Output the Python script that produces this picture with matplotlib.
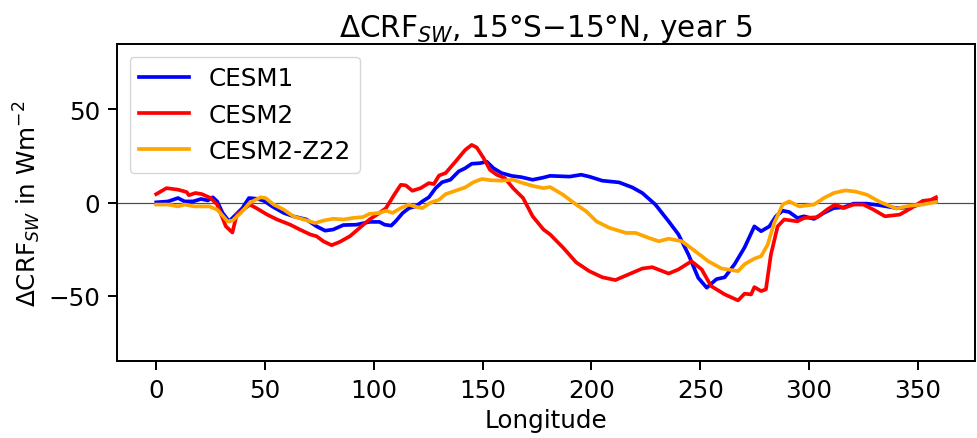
import matplotlib
matplotlib.use("Agg")
import matplotlib.pyplot as plt

# values (longitude in degrees, dCRF_SW in W m-2)
lon_cesm1 = [0, 5.5, 10, 13, 17, 20.6, 23.7, 26, 28, 30.5, 33.5, 36.6, 39.6, 42.6, 46.4, 49.5, 53.3,
             58.6, 63, 69, 73.7, 77.6, 81.3, 86, 92, 98, 102.6, 105, 108, 110, 113.3, 116.2, 119.3,
             122.3, 125.3, 128.4, 131.4, 135.2, 139, 142, 145, 148.8, 151.9, 155, 158.7, 163.3,
             167.8, 173, 178, 181, 190, 195.3, 199, 205, 212.7, 218.8, 223.4, 229.4, 235.5, 240,
             244.6, 249.1, 253, 257.5, 261.3, 265.8, 270.4, 274.9, 278, 281.8, 284.8, 287.9, 290.9,
             294.7, 297.7, 302.3, 306.8, 311.4, 315.9, 320.5, 326.6, 332.6, 340.2, 346.3, 352.3, 358.4]
cesm1 = [0.2, 0.7, 2.5, 0.7, 0.7, 2.0, 1.2, 2.9, 0.7, -5.5, -10, -6.4, -2.9, 2.5, 2.1, 1.0, -2.0,
         -5.5, -7.3, -9.0, -12.7, -15, -14.4, -12, -11.8, -10.3, -10.3, -11.8, -12.3, -10, -5.5, -2.9, -2.0,
         0.7, 2.9, 7.8, 11, 12.3, 16.8, 18.5, 20.9, 21.2, 22, 18.5, 15.9, 14.4,
         13.7, 12.3, 13.5, 14.4, 14, 15, 14, 11.8, 10.9, 8.2, 5.2, -1, -10, -17,
         -27.8, -40.3, -45.6, -41, -40, -33, -24, -12.7, -15.3, -12.7, -7.3, -4.3, -5.0,
         -8.2, -7.3, -8.7, -5.5, -2.9, -2.5, -0.5, -0.5, -1.4, -2.9, -2.5, -0.5, 1.0]

lon_cesm2 = [0, 4.7, 10, 14, 15, 18, 21, 25, 28, 32, 35, 37, 40, 43, 46, 51, 55.5, 61.6, 66, 70.7,
             73.7, 76.8, 80.6, 84.4, 89, 93.5, 98, 102.6, 105.6, 109.4, 112.4, 114.7, 117.7, 121.5,
             125.3, 127.6, 130, 133, 137.5, 142, 145, 147.3, 150.4, 153.4, 156.5, 160.2, 164, 168.6,
             173, 178, 181, 186.9, 193, 199, 205, 211, 217, 223.4, 228, 235.5, 240, 246, 250.7, 255,
             261.3, 267.4, 270.4, 273.4, 274.9, 278, 280.2, 282.5, 285.6, 288.6, 294.7, 297.7, 303.8,
             308.3, 312, 315.9, 320.5, 325, 329.6, 334.9, 341.7, 347, 352.3, 356, 358.4]
cesm2 = [4.6, 7.8, 7.0, 5.7, 4.0, 5.2, 4.6, 2.5, -1, -12.7, -16, -6.4, -3.7, -1, -2.9, -6.4, -9, -11.8, -14.4, -17,
         -18, -20.7, -22.8, -21, -18, -13.5, -9, -5.5, -2.9, 4.3, 9.6, 9.3, 6.4, 7.8,
         10.5, 10, 14.6, 15.9, 22, 28.3, 31, 29.6, 24, 17.6, 15, 13.2, 7.8, 2.5,
         -7.3, -14.4, -17, -24, -32, -36.7, -40, -41.5, -38.5, -35.3, -34.6, -38, -35.8, -31.4, -35.8, -44.7,
         -49.2, -52.4, -48.8, -49.2, -45.3, -47.4, -46.5, -27.8, -12.7, -9, -10, -8.2, -7.8,
         -3.7, -1, -2.9, -1, -1, -3.7, -7.3, -6.4, -2.9, 1.0, 1.5, 2.9]

lon_z22 = [0, 5.5, 10, 13, 17.7, 24.4, 28, 32.8, 35, 38.9, 43, 48, 50.2, 54, 58.6, 63, 67.7, 73, 76.8,
           81.3, 86, 90.4, 95, 98, 102.6, 105.6, 108.6, 112.4, 116.2, 118.5, 122.3, 126, 130, 133,
           137.5, 142, 145.8, 149.6, 154.2, 158.7, 164, 168.6, 173, 178, 181, 186.9, 193, 197.6,
           202.3, 208.3, 215.9, 220.3, 226.4, 231, 235.5, 241.6, 247.7, 253.7, 259.8, 267.4, 270.4,
           274.9, 278, 281, 284, 287.9, 290.9, 295.5, 302.3, 306.8, 311.4, 316.7, 321.2, 326.6,
           332.6, 340.2, 346.3, 352.3, 358.4]
cesm2_z22 = [-1, -1, -2, -1, -2, -2, -3.7, -10, -9.6, -5.5, 0, 2.9, 2.5, -1, -3.7, -7.3, -9, -10.9, -9.6,
             -8.6, -9, -8.2, -7.7, -6, -5.5, -4.3, -5.5, -2.9, -1, -2, -2.9, 0, 1.6, 4.6,
             6.4, 8.2, 11, 12.7, 12, 11.8, 12.3, 10.5, 9, 7.8, 8.4, 4.3, -1, -4.6,
             -10, -13.5, -16.2, -16.2, -18.9, -20.7, -19.3, -20.7, -26, -31.4, -35.3, -36.7, -33,
             -30, -28.7, -22.5, -10.9, -1, 0.7, -2, -1, 2.5, 5.2, 6.6, 6, 4.3,
             0.4, -3.2, -1.6, -1, 0.4]

s = 1.77  # the reference was rendered at a higher dpi
plt.rcParams['font.size'] = 10 * s
plt.rcParams['axes.linewidth'] = 0.8 * s
plt.rcParams['xtick.major.size'] = 3.5 * s
plt.rcParams['ytick.major.size'] = 3.5 * s
plt.rcParams['xtick.major.width'] = 0.8 * s
plt.rcParams['ytick.major.width'] = 0.8 * s
plt.rcParams['xtick.major.pad'] = 3.5 * s
plt.rcParams['ytick.major.pad'] = 3.5 * s

fig = plt.figure(figsize=(9.77, 4.39), dpi=100)
ax = fig.add_axes([0.120, 0.175, 0.878, 0.722])

ax.axhline(0, color='k', linewidth=0.5 * s, alpha=0.7)
ax.plot(lon_cesm1, cesm1, color='blue', linewidth=1.5 * s, label='CESM1')
ax.plot(lon_cesm2, cesm2, color='red', linewidth=1.5 * s, label='CESM2')
ax.plot(lon_z22, cesm2_z22, color='orange', linewidth=1.5 * s, label='CESM2-Z22')

ax.set_ylim(-85, 85)
ax.set_xticks([0, 50, 100, 150, 200, 250, 300, 350])
ax.set_yticks([-50, 0, 50])
ax.set_xlabel('Longitude')
ax.set_ylabel(r'$\Delta$CRF$_{SW}$ in Wm$^{-2}$')
ax.set_title(r'$\Delta$CRF$_{SW}$, 15°S$-$15°N, year 5')
ax.legend(loc='upper left')

fig.savefig('out.png', dpi=100)
